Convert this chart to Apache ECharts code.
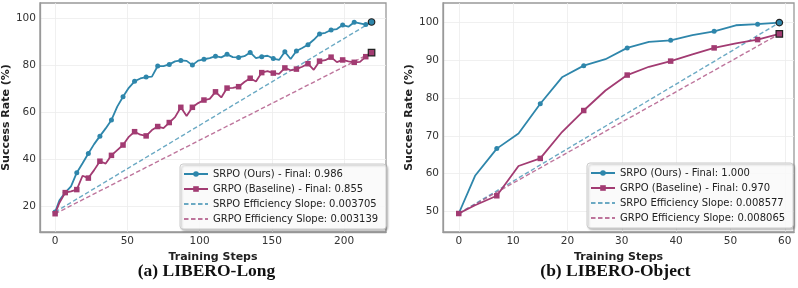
<!DOCTYPE html>
<html><head><meta charset="utf-8">
<script src="https://cdn.jsdelivr.net/npm/echarts@6/dist/echarts.min.js"></script>
<style>html,body{margin:0;padding:0;background:#fff}#c{width:798px;height:288px}</style>
</head><body><div id="c"></div>
<script>
// ---- (a) LIBERO-Long ----
const longSteps = [0,3,7,11,15,19,23,27,31,35,39,43,47,51,55,59,63,67,71,75,79,83,87,91,95,99,103,107,111,115,119,123,127,131,135,139,143,147,151,155,159,163,167,171,175,179,183,187,191,195,199,203,207,211,215,219];
const longSRPO = [17.5,22.5,25.8,28.5,34.3,38.3,42.5,46.5,49.9,53.2,56.8,62.5,66.7,70.5,73.3,74.5,75.1,75.3,79.8,79.8,80.5,81.8,82.2,82.0,80.2,82.1,82.7,83.2,84.0,83.5,84.8,83.6,83.5,84.0,85.6,83.2,83.8,84.2,83.0,82.4,85.9,82.8,86.2,87.5,88.9,91.0,93.5,94.0,95.2,95.6,97.3,96.6,98.5,98.0,97.5,98.6];
const longGRPO = [16.8,21.5,25.8,26.3,27.1,33.0,32.0,35.4,39.2,38.2,41.7,43.9,46.1,49.6,51.8,50.5,50.0,52.5,54.0,53.3,55.7,58.0,62.2,58.5,62.2,64.0,65.3,65.8,68.8,66.4,70.4,70.5,71.0,73.0,74.6,73.2,77.0,77.6,76.8,76.5,79.0,78.0,78.5,79.5,80.8,78.2,81.9,82.3,83.6,81.5,82.4,81.8,81.4,81.6,83.8,85.5];
const longXTicks = [0,50,100,150,200];
const longYTicks = [20,40,60,80,100];
const longNames = ['SRPO (Ours) - Final: 0.986','GRPO (Baseline) - Final: 0.855','SRPO Efficiency Slope: 0.003705','GRPO Efficiency Slope: 0.003139'];

// ---- (b) LIBERO-Object ----
const objSteps = [0,3,7,11,15,19,23,27,31,35,39,43,47,51,55,59];
const objSRPO = [49.4,59.4,66.6,70.6,78.5,85.5,88.6,90.3,93.3,94.9,95.3,96.7,97.7,99.3,99.6,100.0];
const objGRPO = [49.4,51.6,54.1,62.0,64.0,71.0,76.7,82.0,86.1,88.3,89.8,91.6,93.3,94.5,95.5,97.0];
const objXTicks = [0,10,20,30,40,50,60];
const objYTicks = [50,60,70,80,90,100];
const objNames = ['SRPO (Ours) - Final: 1.000','GRPO (Baseline) - Final: 0.970','SRPO Efficiency Slope: 0.008577','GRPO Efficiency Slope: 0.008065'];

const captions = ['(a) LIBERO-Long','(b) LIBERO-Object'];

const BLUE = '#2E86AB', PINK = '#A23B72';
const FONT = 'DejaVu Sans';

function mainData(steps, vals, color) {
  const n = steps.length;
  return steps.map((s, i) => {
    if (i === n - 1) {
      return { value: [s, vals[i]], symbolSize: 6.5, itemStyle: { color: color, borderColor: '#222', borderWidth: 1.2 } };
    }
    return { value: [s, vals[i]], symbol: i % 2 === 0 ? undefined : 'none' };
  });
}
function trendData(steps, vals) {
  const n = steps.length;
  return [[steps[0], vals[0]], [steps[n - 1], vals[n - 1]]];
}
function xAxis(idx, min, max, ticks) {
  return {
    gridIndex: idx, type: 'value', min: min, max: max,
    axisLine: { show: true, onZero: false, lineStyle: { color: '#999', width: 1.3 } },
    axisTick: { show: false, customValues: ticks },
    axisLabel: { customValues: ticks, color: '#333', fontSize: 10.5, fontFamily: FONT, margin: 4 },
    splitLine: { show: true, lineStyle: { color: '#ececec', width: 0.8 } },
    name: 'Training Steps', nameLocation: 'middle', nameGap: 14,
    nameTextStyle: { fontWeight: 'bold', fontSize: 11, color: '#222', fontFamily: FONT }
  };
}
function yAxis(idx, min, max, ticks, gap) {
  return {
    gridIndex: idx, type: 'value', min: min, max: max,
    axisLine: { show: true, onZero: false, lineStyle: { color: '#999', width: 1.3 } },
    axisTick: { show: false, customValues: ticks },
    axisLabel: { customValues: ticks, color: '#333', fontSize: 10.5, fontFamily: FONT, margin: 4 },
    splitLine: { show: true, lineStyle: { color: '#ececec', width: 0.8 } },
    name: 'Success Rate (%)', nameLocation: 'middle', nameGap: gap, nameRotate: 90,
    nameTextStyle: { fontWeight: 'bold', fontSize: 11, color: '#222', fontFamily: FONT }
  };
}
function seriesFor(idx, steps, a, b, names) {
  return [
    { name: names[0], type: 'line', xAxisIndex: idx, yAxisIndex: idx, data: mainData(steps, a, BLUE),
      symbol: 'circle', symbolSize: 5, showAllSymbol: true, color: BLUE,
      lineStyle: { width: 1.8, color: BLUE }, itemStyle: { color: BLUE }, z: 3, animation: false },
    { name: names[1], type: 'line', xAxisIndex: idx, yAxisIndex: idx, data: mainData(steps, b, PINK),
      symbol: 'rect', symbolSize: 5.5, showAllSymbol: true, color: PINK,
      lineStyle: { width: 1.8, color: PINK }, itemStyle: { color: PINK }, z: 4, animation: false },
    { name: names[2], type: 'line', xAxisIndex: idx, yAxisIndex: idx, data: trendData(steps, a),
      symbol: 'none', color: BLUE, lineStyle: { width: 1.4, type: [4.5, 2.5], color: BLUE, opacity: 0.7 }, z: 2, animation: false },
    { name: names[3], type: 'line', xAxisIndex: idx, yAxisIndex: idx, data: trendData(steps, b),
      symbol: 'none', color: PINK, lineStyle: { width: 1.4, type: [4.5, 2.5], color: PINK, opacity: 0.7 }, z: 2, animation: false }
  ];
}
function legend(names, left, top) {
  const hidden = { color: 'transparent', borderColor: 'transparent', borderWidth: 0, opacity: 0 };
  return {
    data: [
      { name: names[0] }, { name: names[1] },
      { name: names[2], itemStyle: hidden }, { name: names[3], itemStyle: hidden }
    ],
    left: left, top: top, orient: 'vertical',
    itemWidth: 24, itemHeight: 7, itemGap: 5,
    padding: [5, 8, 5, 3],
    backgroundColor: 'rgba(255,255,255,0.9)', borderColor: '#ccc', borderWidth: 1, borderRadius: 3,
    shadowColor: 'rgba(0,0,0,0.25)', shadowBlur: 2, shadowOffsetX: 1.5, shadowOffsetY: 1.5,
    textStyle: { fontSize: 10, color: '#222', fontFamily: FONT },
    selectedMode: false
  };
}

const chart = echarts.init(document.getElementById('c'), null, { renderer: 'canvas' });
chart.setOption({
  animation: false,
  backgroundColor: '#fff',
  grid: [
    { left: 36, right: 412, top: 3, bottom: 56, show: true, borderColor: '#999', borderWidth: 1.3 },
    { left: 443, right: 4, top: 3, bottom: 56, show: true, borderColor: '#999', borderWidth: 1.3 }
  ],
  xAxis: [xAxis(0, -10.5, 229, longXTicks), xAxis(1, -2.9, 61.7, objXTicks)],
  yAxis: [yAxis(0, 9, 106.7, longYTicks, 21), yAxis(1, 44.5, 105.2, objYTicks, 22)],
  legend: [legend(longNames, 180, 164), legend(objNames, 587, 163)],
  series: [].concat(seriesFor(0, longSteps, longSRPO, longGRPO, longNames),
                    seriesFor(1, objSteps, objSRPO, objGRPO, objNames)),
  graphic: [
    { type: 'text', x: 206.5, y: 271, style: { text: captions[0], font: 'bold 17.5px "Liberation Serif"', fill: '#111', align: 'center', verticalAlign: 'middle' } },
    { type: 'text', x: 615.4, y: 271, style: { text: captions[1], font: 'bold 17.5px "Liberation Serif"', fill: '#111', align: 'center', verticalAlign: 'middle' } }
  ]
});
</script></body></html>
